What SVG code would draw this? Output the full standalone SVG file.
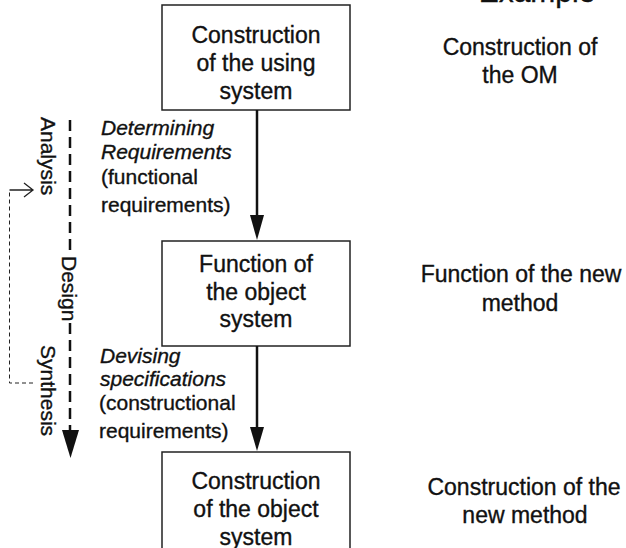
<svg xmlns="http://www.w3.org/2000/svg" width="626" height="548" viewBox="0 0 626 548">
<defs>
<style>
text{font-family:"Liberation Sans",Arial,sans-serif;fill:#111;stroke:#111;stroke-width:0.35}
.t{font-size:23px;text-anchor:middle}
.l{font-size:21px}
.i{font-style:italic}
.box{fill:#fff;stroke:#222;stroke-width:1.5}
.arr{stroke:#111;stroke-width:2.5;fill:none}
.dash{stroke:#111;stroke-width:2.5;stroke-dasharray:11 6;fill:none}
.thin{stroke:#222;stroke-width:1;stroke-dasharray:4 3;fill:none}
</style>
</defs>
<rect width="626" height="548" fill="#fff"/>
<text x="537" y="2" style="font-size:30px" text-anchor="middle">Example</text>

<g id="node1">
<rect class="box" x="162" y="5" width="188" height="105"/>
<text class="t" x="256" y="43">Construction</text>
<text class="t" x="256" y="71">of the using</text>
<text class="t" x="256" y="99">system</text>
</g>
<g id="node2">
<rect class="box" x="162" y="241" width="188" height="105"/>
<text class="t" x="256" y="272">Function of</text>
<text class="t" x="256" y="300">the object</text>
<text class="t" x="256" y="327">system</text>
</g>
<g id="node3">
<path class="box" d="M162,560 V452 H350 V560"/>
<text class="t" x="256" y="489">Construction</text>
<text class="t" x="256" y="517">of the object</text>
<text class="t" x="256" y="545">system</text>
</g>

<g id="example1">
<text class="t" x="520" y="55">Construction of</text>
<text class="t" x="520" y="83">the OM</text>
</g>
<g id="example2">
<text class="t" x="521" y="282">Function of the new</text>
<text class="t" x="520" y="311">method</text>
</g>
<g id="example3">
<text class="t" x="524" y="495">Construction of the</text>
<text class="t" x="525" y="523">new method</text>
</g>

<g id="connectors">
<line class="arr" x1="257" y1="110" x2="257" y2="218"/>
<path d="M250,215 L264,215 L257,240 Z" fill="#111"/>
<line class="arr" x1="257" y1="346" x2="257" y2="430"/>
<path d="M250,427 L264,427 L257,451 Z" fill="#111"/>
<line class="dash" x1="70" y1="120" x2="70" y2="254"/>
<line class="dash" x1="70" y1="323" x2="70" y2="432"/>
<path d="M62,430 L79,430 L70.5,458 Z" fill="#111"/>
<path class="thin" d="M33,383 H9.5 V190"/>
<path d="M9.5,190 H33 M24,183 L33,190 L24,197" stroke="#222" stroke-width="1.3" fill="none"/>
</g>

<g id="labels">
<text class="l i" x="101" y="135">Determining</text>
<text class="l i" x="101" y="159">Requirements</text>
<text class="l" x="101" y="184">(functional</text>
<text class="l" x="101" y="212">requirements)</text>
<text class="l i" x="100" y="363">Devising</text>
<text class="l i" x="100" y="386">specifications</text>
<text class="l" x="99" y="410">(constructional</text>
<text class="l" x="99" y="438">requirements)</text>
<text class="l" transform="translate(41,117) rotate(90)">Analysis</text>
<text class="l" transform="translate(62,256) rotate(90)">Design</text>
<text class="l" transform="translate(41,345) rotate(90)">Synthesis</text>
</g>
</svg>
